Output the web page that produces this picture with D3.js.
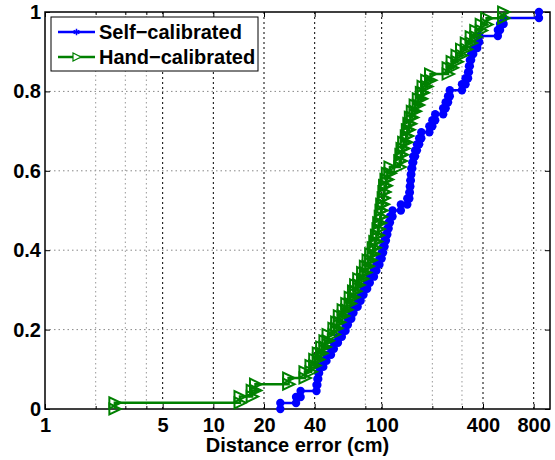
<!DOCTYPE html>
<html>
<head>
<meta charset="utf-8">
<script src="https://cdn.jsdelivr.net/npm/d3@7"></script>
<style>
  body{margin:0;background:#fff;}
  text{font-family:"Liberation Sans",Arial,Helvetica,sans-serif;font-weight:bold;}
</style>
</head>
<body>
<script>
// sorted distance errors (cm), one per sample -> empirical CDF
const selfCal=[25,31,33,41,41.5,42,42.5,45,47,50,52,55,58,61,63,66,68,72,75,78,82,85,90,93,97,100,
  102,104,106,108,110,112,116,130,142,146,147,148,149,150,152,154,158,162,167,172,192,200,208,232,
  240,248,254,300,315,326,330,334,340,350,370,380,490,505,530,860]
const handCal=[2.6,14.4,17,17.8,28,35,38,40,42,44,46,48,52,54,56,59,62,65,68,70,73,77,80,83,86,89,
  91,93,95,96,98,99,100,102,103,104,106,108,112,128,130,132,135,140,142,145,148,152,158,165,172,
  176,185,195,248,262,280,298,318,340,362,390,420,530]
const seriesNames=["Self\u2212calibrated","Hand\u2212calibrated"]
const xTicks=[1,5,10,20,40,100,400,800]
const xMinor=[2,3,4,80,200,300]
const yTicks=[0,0.2,0.4,0.6,0.8,1]

const w=555, h=460
const pl=45, pr=550, pt=12, pb=409

const svg=d3.select("body").append("svg").attr("width",w).attr("height",h)

const xScale=d3.scaleLog().domain([1,1000]).range([pl,pr])
const yScale=d3.scaleLinear().domain([0,1]).range([pb,pt])

// grid
svg.append("g").selectAll("line").data(yTicks.slice(1,-1)).enter().append("line")
  .attr("x1",pl).attr("x2",pr).attr("y1",d=>yScale(d)).attr("y2",d=>yScale(d))
  .attr("stroke","#888").attr("stroke-width",1).attr("stroke-dasharray","1.5,3")
svg.append("g").selectAll("line").data(xMinor).enter().append("line")
  .attr("x1",d=>xScale(d)).attr("x2",d=>xScale(d)).attr("y1",pt).attr("y2",pb)
  .attr("stroke","#999").attr("stroke-width",1).attr("stroke-dasharray","1.5,3")
svg.append("g").selectAll("line").data(xTicks.slice(1)).enter().append("line")
  .attr("x1",d=>xScale(d)).attr("x2",d=>xScale(d)).attr("y1",pt).attr("y2",pb)
  .attr("stroke","#000").attr("stroke-width",1).attr("stroke-dasharray","2,3")

// axes
const xAxis=d3.axisBottom(xScale).tickValues(xTicks).tickFormat(d3.format("d")).tickSize(-5).tickPadding(9)
const yAxis=d3.axisLeft(yScale).tickValues(yTicks).tickFormat(d=>d).tickSize(-5).tickPadding(4)
const gx=svg.append("g").attr("id","x-axis").attr("transform","translate(0,"+pb+")").call(xAxis)
const gy=svg.append("g").attr("id","y-axis").attr("transform","translate("+pl+",0)").call(yAxis)
svg.append("g").attr("transform","translate(0,"+pt+")")
  .call(d3.axisTop(xScale).tickValues(xTicks).tickFormat("").tickSize(-5))
svg.append("g").attr("transform","translate("+pr+",0)")
  .call(d3.axisRight(yScale).tickValues(yTicks).tickFormat("").tickSize(-5))
svg.append("g").attr("transform","translate(0,"+pb+")")
  .call(d3.axisBottom(xScale).tickValues(xMinor).tickFormat("").tickSize(-3))
svg.append("g").attr("transform","translate(0,"+pt+")")
  .call(d3.axisTop(xScale).tickValues(xMinor).tickFormat("").tickSize(-3))
svg.selectAll(".domain").remove()
svg.selectAll(".tick line").attr("stroke","#000")
gx.selectAll("text").style("font-size","20px").attr("fill","#000")
gy.selectAll("text").style("font-size","20px").attr("fill","#000")

svg.append("rect").attr("x",pl).attr("y",pt).attr("width",pr-pl).attr("height",pb-pt)
  .attr("fill","none").attr("stroke","#000").attr("stroke-width",1.5)

svg.append("text").attr("x",(pl+pr)/2).attr("y",452).attr("text-anchor","middle")
  .style("font-size","20px").text("Distance error (cm)")

// stair vertices of the CDF
function stairs(vals){
  const n=vals.length, pts=[]
  vals.forEach((v,i)=>{pts.push([v,i/n]);pts.push([v,(i+1)/n])})
  return pts
}
const line=d3.line().x(d=>xScale(d[0])).y(d=>yScale(d[1]))
const tri="M-5.5,-5.5L-5.5,5.5L6,0Z"

const bluePts=stairs(selfCal)
svg.append("path").datum(bluePts).attr("d",line).attr("fill","none")
  .attr("stroke","#0000ff").attr("stroke-width",2.5)
svg.append("g").selectAll("circle").data(bluePts).enter().append("circle")
  .attr("cx",d=>xScale(d[0])).attr("cy",d=>yScale(d[1])).attr("r",4.2).attr("fill","#0000ff")

const greenPts=stairs(handCal)
svg.append("path").datum(greenPts).attr("d",line).attr("fill","none")
  .attr("stroke","#008000").attr("stroke-width",2.5)
svg.append("g").selectAll("path").data(greenPts).enter().append("path")
  .attr("d",tri).attr("transform",d=>"translate("+xScale(d[0])+","+yScale(d[1])+")")
  .attr("fill","none").attr("stroke","#008000").attr("stroke-width",2)

// legend
const lg=svg.append("g")
lg.append("rect").attr("x",51).attr("y",17).attr("width",207).attr("height",54)
  .attr("fill","#fff").attr("stroke","#000").attr("stroke-width",1)
const legendRows=[{name:seriesNames[0],color:"#0000ff",y:32},{name:seriesNames[1],color:"#008000",y:57}]
legendRows.forEach((r,i)=>{
  lg.append("line").attr("x1",58).attr("x2",95).attr("y1",r.y).attr("y2",r.y)
    .attr("stroke",r.color).attr("stroke-width",2.5)
  if(i==0){
    lg.append("path").attr("d",d3.symbol(d3.symbolAsterisk,30)())
      .attr("transform","translate(76.5,"+r.y+")").attr("stroke",r.color).attr("stroke-width",1.5).attr("fill","none")
  }else{
    lg.append("path").attr("d","M-3.5,-4L-3.5,4L4.5,0Z")
      .attr("transform","translate(76.5,"+r.y+")").attr("stroke",r.color).attr("stroke-width",1.2).attr("fill","#fff")
  }
  lg.append("text").attr("x",99).attr("y",r.y+7).style("font-size","20px").text(r.name)
})
</script>
</body>
</html>
